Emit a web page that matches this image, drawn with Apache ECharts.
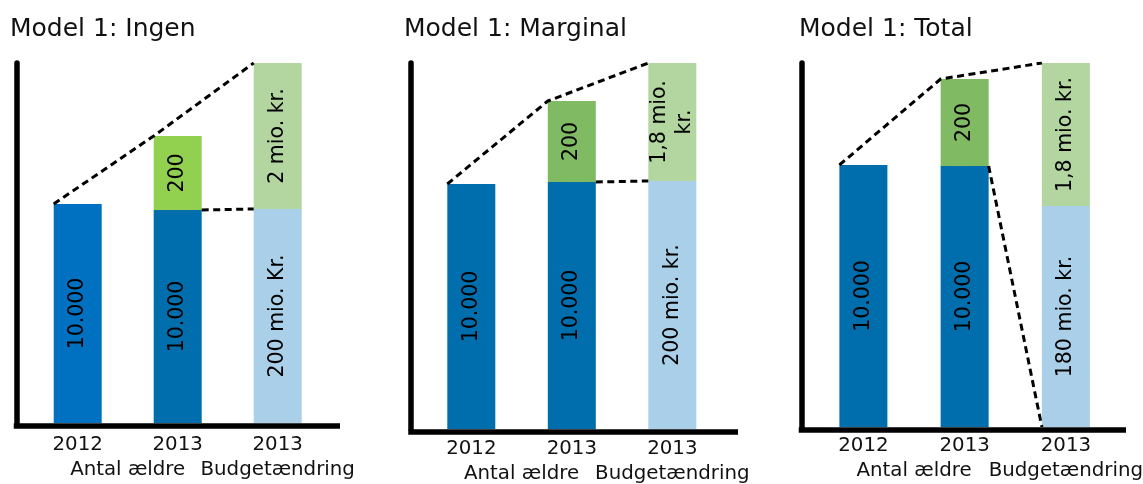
<!DOCTYPE html>
<html>
<head>
<meta charset="utf-8">
<script src="https://cdn.jsdelivr.net/npm/echarts@6/dist/echarts.min.js"></script>
<style>
  html, body { margin: 0; padding: 0; background: #fff; }
  #chart { width: 1143px; height: 484px; }
</style>
</head>
<body>
<div id="chart"></div>
<script>
// Panel titles and axis texts
const panelTitles = ['Model 1: Ingen', 'Model 1: Marginal', 'Model 1: Total'];
const yearLabels = ['2012', '2013', '2013'];
const groupLabels = ['Antal ældre', 'Budgetændring'];

// Schematic bar heights (lower segment / upper segment) per panel
const baseIngen = [219, 213, 214];
const topIngen = [0, 74, 146];
const baseMarginal = [245, 247, 248];
const topMarginal = [0, 81, 118];
const baseTotal = [262, 261, 221];
const topTotal = [0, 87, 143];

// Texts written inside the segments
const baseTextIngen = ['10.000', '10.000', '200 mio. Kr.'];
const topTextIngen = ['', '200', '2 mio. kr.'];
const baseTextMarginal = ['10.000', '10.000', '200 mio. kr.'];
const topTextMarginal = ['', '200', '1,8 mio.\nkr.'];
const baseTextTotal = ['10.000', '10.000', '180 mio. kr.'];
const topTextTotal = ['', '200', '1,8 mio. kr.'];

// Segment colours
const baseColorsIngen = ['#0070C0', '#006EAC', '#A9D0E8'];
const topColorsIngen = ['#92D050', '#92D050', '#B3D6A1'];
const baseColorsOther = ['#006EAC', '#006EAC', '#A9D0E8'];
const topColorsOther = ['#80BA63', '#80BA63', '#B3D6A1'];

const panels = [
  { title: panelTitles[0], base: baseIngen, top: topIngen, baseText: baseTextIngen, topText: topTextIngen,
    baseColors: baseColorsIngen, topColors: topColorsIngen, connector: 'level',
    layout: { axisX: 16.5, endX: 340, baseline: 423, firstCenter: 77.7, step: 100, titleX: 10, labelMargin: 6.5 } },
  { title: panelTitles[1], base: baseMarginal, top: topMarginal, baseText: baseTextMarginal, topText: topTextMarginal,
    baseColors: baseColorsOther, topColors: topColorsOther, connector: 'level',
    layout: { axisX: 411, endX: 738, baseline: 429, firstCenter: 471.3, step: 100.5, titleX: 404, labelMargin: 4.5 } },
  { title: panelTitles[2], base: baseTotal, top: topTotal, baseText: baseTextTotal, topText: topTextTotal,
    baseColors: baseColorsOther, topColors: topColorsOther, connector: 'drop',
    layout: { axisX: 801.5, endX: 1126, baseline: 427, firstCenter: 863.4, step: 101.25, titleX: 799, labelMargin: 4 } }
];

const FONT = 'DejaVu Sans';
const TOP = 63;
const AXIS_W = 5.5;
const BAR_W = 48;
const ROW_GAP = 25;
const dash = { color: '#000', width: 3, type: [7, 4.5] };

const option = {
  animation: false,
  backgroundColor: '#fff',
  title: [], grid: [], xAxis: [], yAxis: [], series: []
};

panels.forEach((p, i) => {
  const L = p.layout;
  const gridW = L.endX - AXIS_W / 2 - L.axisX;
  const hw = (BAR_W / 2) / L.step;
  const total = p.base.map((b, k) => b + p.top[k]);
  const xMin = (L.axisX - L.firstCenter) / L.step;
  const xMax = (L.axisX + gridW - L.firstCenter) / L.step;
  const labelFont = { color: '#111', fontFamily: FONT, fontSize: 19.8, lineHeight: 25 };

  option.title.push({
    text: p.title, left: L.titleX, top: 17, padding: 0,
    textStyle: { fontFamily: FONT, fontSize: 25, fontWeight: 'normal', color: '#111' }
  });

  option.grid.push({
    left: L.axisX, top: TOP, width: gridW, height: L.baseline - TOP,
    outerBoundsMode: 'none', containLabel: false
  });

  // Year axis carrying the thick base line
  const yearText = { 0: yearLabels[0], 1: yearLabels[1], 2: yearLabels[2] };
  option.xAxis.push({
    type: 'value', gridIndex: i, position: 'bottom', min: xMin, max: xMax,
    offset: AXIS_W / 2,
    axisLine: { show: true, onZero: false, lineStyle: { color: '#000', width: AXIS_W, cap: 'square' } },
    axisTick: { show: false },
    splitLine: { show: false },
    axisLabel: Object.assign({
      customValues: [0, 1, 2],
      formatter: v => yearText[v] || '',
      margin: L.labelMargin, hideOverlap: false
    }, labelFont)
  });

  // Group captions one row below the years
  const groupText = { 0.5: groupLabels[0], 2: groupLabels[1] };
  option.xAxis.push({
    type: 'value', gridIndex: i, position: 'bottom', min: xMin, max: xMax,
    offset: AXIS_W / 2 + ROW_GAP,
    axisLine: { show: false, onZero: false },
    axisTick: { show: false },
    splitLine: { show: false },
    axisLabel: Object.assign({
      customValues: [0.5, 2],
      formatter: v => groupText[v] || '',
      margin: L.labelMargin, hideOverlap: false
    }, labelFont)
  });

  option.yAxis.push({
    type: 'value', gridIndex: i, min: 0, max: Math.max(...total),
    axisLine: { show: true, onZero: false, lineStyle: { color: '#000', width: AXIS_W } },
    axisTick: { show: false }, axisLabel: { show: false }, splitLine: { show: false }
  });

  const xIdx = i * 2;
  const labelStyle = {
    show: true, position: 'inside', rotate: 90,
    color: '#000', fontFamily: FONT, fontSize: 20.5, lineHeight: 25
  };

  // Stacked segments: value first so the stack runs along the vertical axis
  const barSeries = (heights, colors, texts) => ({
    type: 'bar', xAxisIndex: xIdx, yAxisIndex: i, stack: 'stack' + i, barWidth: BAR_W,
    dimensions: ['height', 'slot'],
    encode: { x: 1, y: 0 },
    data: heights.map((h, k) => ({
      value: [h, k],
      itemStyle: { color: colors[k] },
      label: Object.assign({}, labelStyle, { show: h > 0, formatter: texts[k] })
    }))
  });

  option.series.push(barSeries(p.base, p.baseColors, p.baseText));
  option.series.push(barSeries(p.top, p.topColors, p.topText));

  // Dashed connector along the bar tops
  option.series.push({
    type: 'line', xAxisIndex: xIdx, yAxisIndex: i, symbol: 'none', silent: true, z: 5,
    lineStyle: dash,
    data: total.map((t, k) => [k - hw, t])
  });

  // Dashed connector from the 2013 base segment to the budget bar
  option.series.push({
    type: 'line', xAxisIndex: xIdx, yAxisIndex: i, symbol: 'none', silent: true, z: 5,
    lineStyle: dash,
    data: p.connector === 'level'
      ? [[1 + hw, p.base[1]], [2 - hw, p.base[2]]]
      : [[1 + hw, p.base[1]], [2 - hw, 0]]
  });
});

const chart = echarts.init(document.getElementById('chart'), null, { renderer: 'canvas' });
chart.setOption(option);
</script>
</body>
</html>
